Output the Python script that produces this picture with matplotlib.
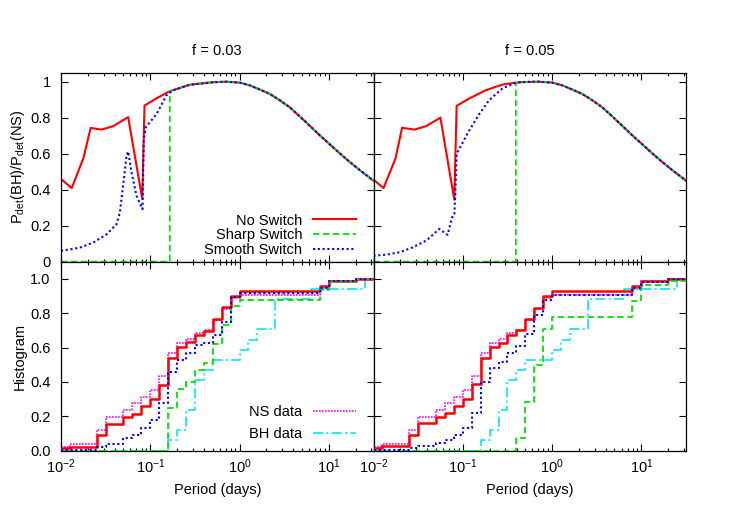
import numpy as np
import matplotlib
matplotlib.use('Agg')
import matplotlib.pyplot as plt
from matplotlib.ticker import LogLocator, FixedLocator, FuncFormatter, NullFormatter

plt.rcParams['font.family'] = ['Liberation Sans', 'DejaVu Sans']
plt.rcParams['mathtext.fontset'] = 'custom'
plt.rcParams['mathtext.rm'] = 'Liberation Sans'
plt.rcParams['mathtext.it'] = 'Liberation Sans:italic'
plt.rcParams['mathtext.bf'] = 'Liberation Sans:bold'
plt.rcParams['font.size'] = 10.5

# ---- top panels: Pdet(BH)/Pdet(NS) vs log10(period) ----
# common high-period tail (all three curves coincide here)
tail_logp = [-0.15, 0.0, 0.112, 0.224, 0.335, 0.447, 0.559, 0.67, 0.782, 0.894,
             1.006, 1.117, 1.229, 1.341, 1.453, 1.5]
tail_val = [1.0, 0.995, 0.98, 0.957, 0.933, 0.898, 0.859, 0.809, 0.757, 0.704,
            0.654, 0.604, 0.556, 0.511, 0.468, 0.45]

# f = 0.03
nosw03_logp = [-2.0, -1.88, -1.75, -1.668, -1.545, -1.416, -1.248, -1.09, -1.065,
               -0.93, -0.782, -0.559, -0.3]
nosw03_val = [0.459, 0.409, 0.574, 0.743, 0.734, 0.753, 0.803, 0.35, 0.867,
              0.908, 0.947, 0.983, 0.997]
smooth03_logp = [-2.0, -1.79, -1.64, -1.49, -1.378, -1.341, -1.30, -1.266, -1.248,
                 -1.21, -1.154, -1.087, -1.073, -1.05, -0.93, -0.819, -0.745,
                 -0.559, -0.3]
smooth03_val = [0.06, 0.078, 0.106, 0.152, 0.208, 0.273, 0.44, 0.59, 0.612,
                0.496, 0.366, 0.292, 0.682, 0.747, 0.82, 0.924, 0.952,
                0.983, 0.997]
sharp03_logp = [-2.0, -0.782, -0.782, -0.559, -0.3]
sharp03_val = [0.0, 0.0, 0.947, 0.983, 0.997]

# f = 0.05
nosw05_logp = [-2.0, -1.888, -1.754, -1.68, -1.542, -1.411, -1.251, -1.095, -1.069,
               -0.927, -0.741, -0.555, -0.369]
nosw05_val = [0.456, 0.409, 0.573, 0.744, 0.734, 0.753, 0.80, 0.344, 0.866,
              0.907, 0.953, 0.984, 0.997]
smooth05_logp = [-2.0, -1.86, -1.71, -1.56, -1.41, -1.263, -1.17, -1.12, -1.095,
                 -1.084, -1.069, -0.927, -0.816, -0.704, -0.555, -0.406, -0.3]
smooth05_val = [0.033, 0.039, 0.052, 0.08, 0.117, 0.182, 0.149, 0.247, 0.257,
                0.378, 0.60, 0.73, 0.82, 0.898, 0.963, 0.994, 0.999]
sharp05_logp = [-2.0, -0.406, -0.406, -0.3]
sharp05_val = [0.0, 0.0, 0.994, 0.999]

# ---- bottom panels: cumulative histograms, bins of 0.1 dex ----
bin_edges = [-2.0, -1.9, -1.8, -1.7, -1.6, -1.5, -1.4, -1.3, -1.2, -1.1, -1.0,
             -0.9, -0.8, -0.7, -0.6, -0.5, -0.4, -0.3, -0.2, -0.1, 0.0,
             0.1, 0.2, 0.3, 0.4, 0.5, 0.6, 0.7, 0.8, 0.9, 1.0,
             1.1, 1.2, 1.3, 1.4, 1.5]

ns_data = [0.023, 0.039, 0.039, 0.039, 0.12, 0.197, 0.197, 0.236, 0.277, 0.313,
           0.352, 0.434, 0.568, 0.627, 0.651, 0.685, 0.704, 0.76, 0.826, 0.888,
           0.904, 0.904, 0.904, 0.904, 0.904, 0.904, 0.904, 0.904, 0.904, 0.942,
           0.987, 0.987, 0.987, 1.0, 1.0]
bh_data = [0, 0, 0, 0, 0, 0, 0, 0, 0, 0,
           0, 0, 0.062, 0.122, 0.238, 0.413, 0.471, 0.529, 0.529, 0.529,
           0.587, 0.647, 0.709, 0.709, 0.882, 0.882, 0.882, 0.882, 0.941, 0.941,
           0.941, 0.941, 0.941, 0.941, 1.0]

hist_nosw03 = [0.015, 0.023, 0.023, 0.023, 0.09, 0.157, 0.157, 0.196, 0.216, 0.259,
               0.30, 0.385, 0.538, 0.606, 0.63, 0.673, 0.697, 0.766, 0.834, 0.903,
               0.927, 0.927, 0.927, 0.927, 0.927, 0.927, 0.927, 0.927, 0.927, 0.96,
               0.988, 0.988, 0.988, 1.0, 1.0]
hist_sharp03 = [0, 0, 0, 0, 0, 0, 0, 0, 0, 0,
                0, 0, 0.25, 0.362, 0.398, 0.471, 0.51, 0.62, 0.731, 0.843,
                0.88, 0.88, 0.88, 0.88, 0.88, 0.88, 0.88, 0.88, 0.88, 0.935,
                0.981, 0.981, 0.981, 1.0, 1.0]
hist_smooth03 = [0.005, 0.005, 0.005, 0.005, 0.02, 0.04, 0.04, 0.072, 0.09, 0.133,
                 0.18, 0.28, 0.458, 0.53, 0.567, 0.613, 0.625, 0.675, 0.75, 0.895,
                 0.915, 0.915, 0.915, 0.915, 0.915, 0.915, 0.915, 0.915, 0.915, 0.947,
                 0.99, 0.99, 0.99, 1.0, 1.0]

hist_nosw05 = [0.014, 0.027, 0.027, 0.027, 0.09, 0.159, 0.159, 0.197, 0.217, 0.259,
               0.298, 0.387, 0.542, 0.603, 0.627, 0.671, 0.70, 0.766, 0.832, 0.903,
               0.928, 0.928, 0.928, 0.928, 0.928, 0.928, 0.928, 0.928, 0.928, 0.957,
               0.986, 0.986, 0.986, 1.0, 1.0]
hist_sharp05 = [0, 0, 0, 0, 0, 0, 0, 0, 0, 0,
                0, 0, 0, 0, 0, 0, 0.073, 0.286, 0.5, 0.71,
                0.778, 0.778, 0.778, 0.778, 0.778, 0.778, 0.778, 0.778, 0.778, 0.874,
                0.962, 0.962, 0.962, 0.99, 0.99]
hist_smooth05 = [0.005, 0.005, 0.005, 0.005, 0.015, 0.025, 0.03, 0.045, 0.06, 0.09,
                 0.13, 0.22, 0.40, 0.484, 0.516, 0.567, 0.607, 0.681, 0.787, 0.878,
                 0.907, 0.907, 0.907, 0.907, 0.907, 0.907, 0.907, 0.907, 0.907, 0.946,
                 0.98, 0.98, 0.98, 1.0, 1.0]

titles = ['f = 0.03', 'f = 0.05']

RED, GREEN, BLUE = '#ff0000', '#00e000', '#0000ff'
MAGENTA, CYAN = '#ff00ff', '#00e8f0'

fig = plt.figure(figsize=(7.47, 5.23), dpi=100)
L, R, T, B = 61 / 747, 686 / 747, 1 - 72.7 / 523, 1 - 450.7 / 523
w = (R - L) / 2
h = (T - B) / 2

axes = {}
for i in range(2):
    axes[(0, i)] = fig.add_axes([L + i * w, B + h, w, h])
    axes[(1, i)] = fig.add_axes([L + i * w, B, w, h])

xmin, xmax = 0.01, 10 ** 1.5


def tail(logp, val):
    return 10 ** np.array(list(logp) + tail_logp), np.array(list(val) + tail_val)


top_sets = [
    (nosw03_logp, nosw03_val, sharp03_logp, sharp03_val, smooth03_logp, smooth03_val),
    (nosw05_logp, nosw05_val, sharp05_logp, sharp05_val, smooth05_logp, smooth05_val),
]
for i, (nl, nv, shl, shv, sml, smv) in enumerate(top_sets):
    ax = axes[(0, i)]
    x, y = tail(nl, nv)
    ax.plot(x, y, color=RED, lw=1.5, label='No Switch')
    x, y = tail(shl, shv)
    ax.plot(x, y, color=GREEN, lw=1.3, dashes=(3.5, 2), label='Sharp Switch')
    x, y = tail(sml, smv)
    ax.plot(x, y, color=BLUE, lw=1.5, dashes=(1, 1.3), label='Smooth Switch')
    ax.set_ylim(0, 1.05)
    ax.yaxis.set_major_locator(FixedLocator([0, 0.2, 0.4, 0.6, 0.8, 1.0]))
    ax.yaxis.set_major_formatter(FuncFormatter(lambda v, p: '%g' % round(v, 2)))
    ax.set_title(titles[i], pad=13, fontsize=10.5)

edges_p = 10 ** np.array(bin_edges)
bottom_sets = [(hist_nosw03, hist_sharp03, hist_smooth03),
               (hist_nosw05, hist_sharp05, hist_smooth05)]
for i, (hn, hs, hm) in enumerate(bottom_sets):
    ax = axes[(1, i)]
    ax.step(edges_p, ns_data + [ns_data[-1]], where='post', color=MAGENTA, lw=1.2,
            dashes=(1, 0.8), label='NS data', zorder=2)
    ax.step(edges_p, bh_data + [bh_data[-1]], where='post', color=CYAN, lw=1.2,
            dashes=(6, 2, 1.2, 2), label='BH data', zorder=2)
    ax.step(edges_p, hn + [hn[-1]], where='post', color=RED, lw=1.8, zorder=3)
    ax.step(edges_p, hs + [hs[-1]], where='post', color=GREEN, lw=1.3,
            dashes=(3.5, 2), zorder=4)
    ax.step(edges_p, hm + [hm[-1]], where='post', color=BLUE, lw=1.5,
            dashes=(1, 1.3), zorder=5)
    ax.set_ylim(0, 1.1)
    ax.yaxis.set_major_locator(FixedLocator([0, 0.2, 0.4, 0.6, 0.8, 1.0]))
    ax.yaxis.set_major_formatter(FuncFormatter(lambda v, p: '%.1f' % v))
    ax.set_xlabel('Period (days)', labelpad=5)

for (r, c), ax in axes.items():
    ax.set_xscale('log')
    ax.set_xlim(xmin, xmax)
    ax.xaxis.set_major_locator(LogLocator(base=10, numticks=10))
    ax.xaxis.set_minor_locator(LogLocator(base=10, subs=np.arange(2, 10), numticks=10))
    ax.xaxis.set_minor_formatter(NullFormatter())
    ax.tick_params(which='both', direction='in', top=True, right=True)
    ax.tick_params(which='major', length=5, width=0.8)
    ax.tick_params(which='minor', length=2.5, width=0.8)
    ax.tick_params(axis='y', which='major', pad=7.5)
    ax.tick_params(axis='x', which='major', pad=5)
    for s in ax.spines.values():
        s.set_linewidth(0.9)
    if r == 0:
        ax.set_xticklabels([])
    if c == 1:
        ax.set_yticklabels([])

axes[(0, 0)].set_ylabel(r'P$_{\rm det}$(BH)/P$_{\rm det}$(NS)')
axes[(1, 0)].set_ylabel('Histogram')
axes[(0, 0)].yaxis.set_label_coords(-0.11, 0.5)
axes[(1, 0)].yaxis.set_label_coords(-0.11, 0.5)

axes[(0, 0)].legend(loc='lower right', bbox_to_anchor=(0.945, 0.025), frameon=False,
                    markerfirst=False, handlelength=3.0, handletextpad=0.7,
                    labelspacing=0.05, borderpad=0, borderaxespad=0)
axes[(1, 0)].legend(loc='lower right', bbox_to_anchor=(0.945, 0.05), frameon=False,
                    markerfirst=False, handlelength=3.0, handletextpad=0.7,
                    labelspacing=0.55, borderpad=0, borderaxespad=0)

fig.savefig('out.png', dpi=100)
